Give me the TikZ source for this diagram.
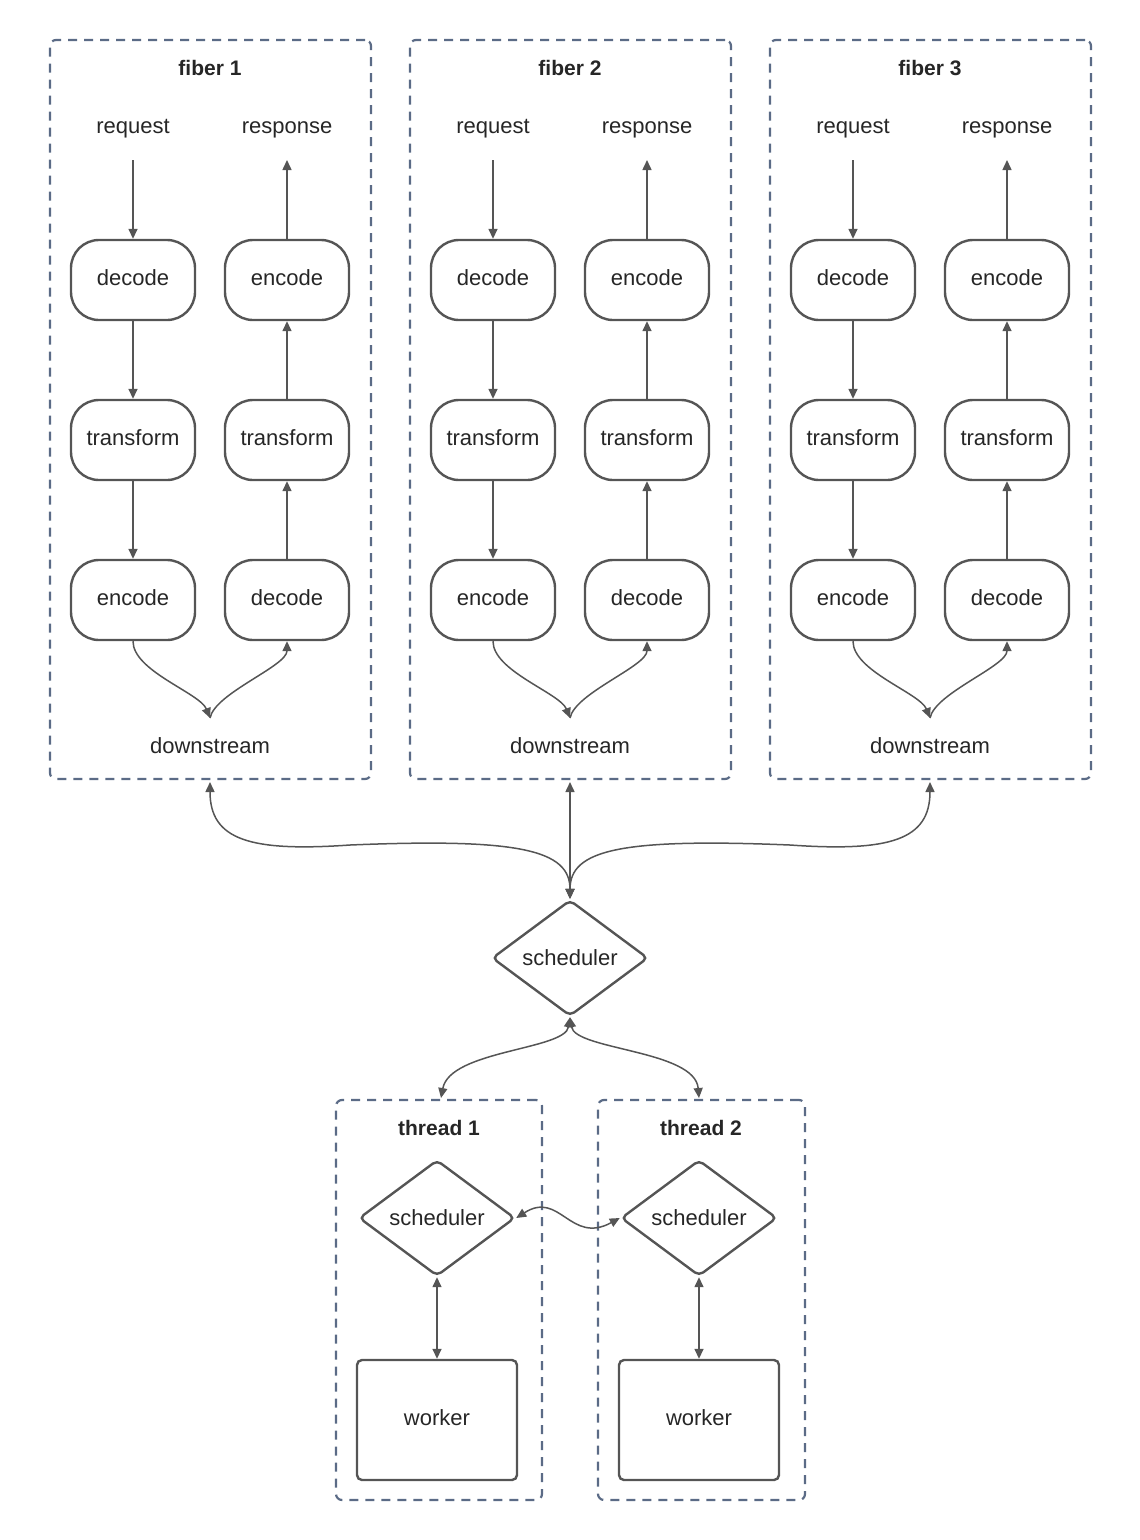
\documentclass[tikz,border=0pt]{standalone}
\usepackage{fontspec}
\setmainfont{Liberation Sans}
\usetikzlibrary{shapes.geometric,arrows.meta,calc}
\definecolor{ln}{HTML}{555555}
\definecolor{bx}{HTML}{5B6B86}
\begin{document}
\begin{tikzpicture}[x=1pt,y=-1pt,
  font=\fontsize{22}{26}\selectfont, text=black!85,
  every node/.style={text height=15pt,text depth=4pt},
  frame/.style={draw=bx,line width=2.2pt,dash pattern=on 9pt off 7pt,rounded corners=6pt},
  stage/.style={draw=ln,line width=2.4pt,rounded corners=28pt,minimum width=124pt,minimum height=80pt},
  dia/.style={draw=ln,line width=2.4pt,diamond,aspect=1.34,minimum width=156pt,minimum height=116pt,inner sep=0pt,rounded corners=5pt},
  wk/.style={draw=ln,line width=2.4pt,rounded corners=5pt,minimum width=160pt,minimum height=120pt},
  ar/.style={draw=ln,line width=1.5pt,-{Triangle[length=10pt,width=9pt]}},
  bar/.style={draw=ln,line width=1.5pt,{Triangle[length=10pt,width=9pt]}-{Triangle[length=10pt,width=9pt]}},
  ttl/.style={font=\fontsize{21}{25}\selectfont\bfseries}]
\useasboundingbox (0,0) rectangle (1140,1540);
\foreach \i/\o in {1/0,2/360,3/720}{
  \begin{scope}[xshift=\o pt]
  \node[frame,minimum width=321pt,minimum height=739pt,text height=,text depth=] (box\i) at (210.5,409.5) {};
  \node[ttl] (t\i) at (210,70) {fiber \i};
  \node (req\i) at (133,128) {request};
  \node (resp\i) at (287,128) {response};
  \node[stage] (d\i) at (133,280) {decode};
  \node[stage] (tr\i) at (133,440) {transform};
  \node[stage] (e\i) at (133,600) {encode};
  \node[stage] (e2\i) at (287,280) {encode};
  \node[stage] (tr2\i) at (287,440) {transform};
  \node[stage] (d2\i) at (287,600) {decode};
  \node (ds\i) at (210,748) {downstream};
  \coordinate (j\i) at (210,718);
  \coordinate (b\i) at (210,782);
  \end{scope}
  \draw[ar] ($(req\i)+(0,32)$) -- (d\i);
  \draw[ar] (e2\i.north) -- ($(resp\i)+(0,32)$);
  \draw[ar] (d\i) -- (tr\i);
  \draw[ar] (tr\i) -- (e\i);
  \draw[ar] (d2\i) -- (tr2\i);
  \draw[ar] (tr2\i) -- (e2\i);
  \draw[ar] (e\i.south) .. controls ($(e\i.south)+(0,30)$) and ($(j\i)+(-10,-25)$) .. (j\i);
  \draw[ar] (j\i) .. controls ($(j\i)+(5,-25)$) and ($(d2\i.south)+(0,25)$) .. (d2\i.south);
}
\node[dia,text height=,text depth=] (s) at (570,958) {scheduler};
\draw[bar] (s.north) .. controls (570,850) and (520,838) .. (350,845) .. controls (250,852) and (210,840) .. (b1);
\draw[bar] (s.north) -- (b2);
\draw[bar] (s.north) .. controls (570,850) and (620,838) .. (790,845) .. controls (890,852) and (930,840) .. (b3);
% threads
\node[frame,minimum width=206pt,minimum height=400pt,text height=,text depth=] (th1) at (439,1300) {};
\node[frame,minimum width=207pt,minimum height=400pt,text height=,text depth=] (th2) at (701.5,1300) {};
\node[ttl] at (439,1130) {thread 1};
\node[ttl] at (701,1130) {thread 2};
\node[dia,text height=,text depth=] (s1) at (437,1218) {scheduler};
\node[dia,text height=,text depth=] (s2) at (699,1218) {scheduler};
\node[wk] (w1) at (437,1420) {worker};
\node[wk] (w2) at (699,1420) {worker};
\coordinate (tt1) at (441,1098);
\coordinate (tt2) at (699,1098);
\draw[bar] (s.south) .. controls (565,1050) and (450,1050) .. (tt1);
\draw[bar] (s.south) .. controls (575,1050) and (695,1050) .. (tt2);
\draw[bar] (s1) -- (w1);
\draw[bar] (s2) -- (w2);
\draw[bar] (s1.east) .. controls (560,1190) and (570,1245) .. (s2.west);
\end{tikzpicture}
\end{document}
